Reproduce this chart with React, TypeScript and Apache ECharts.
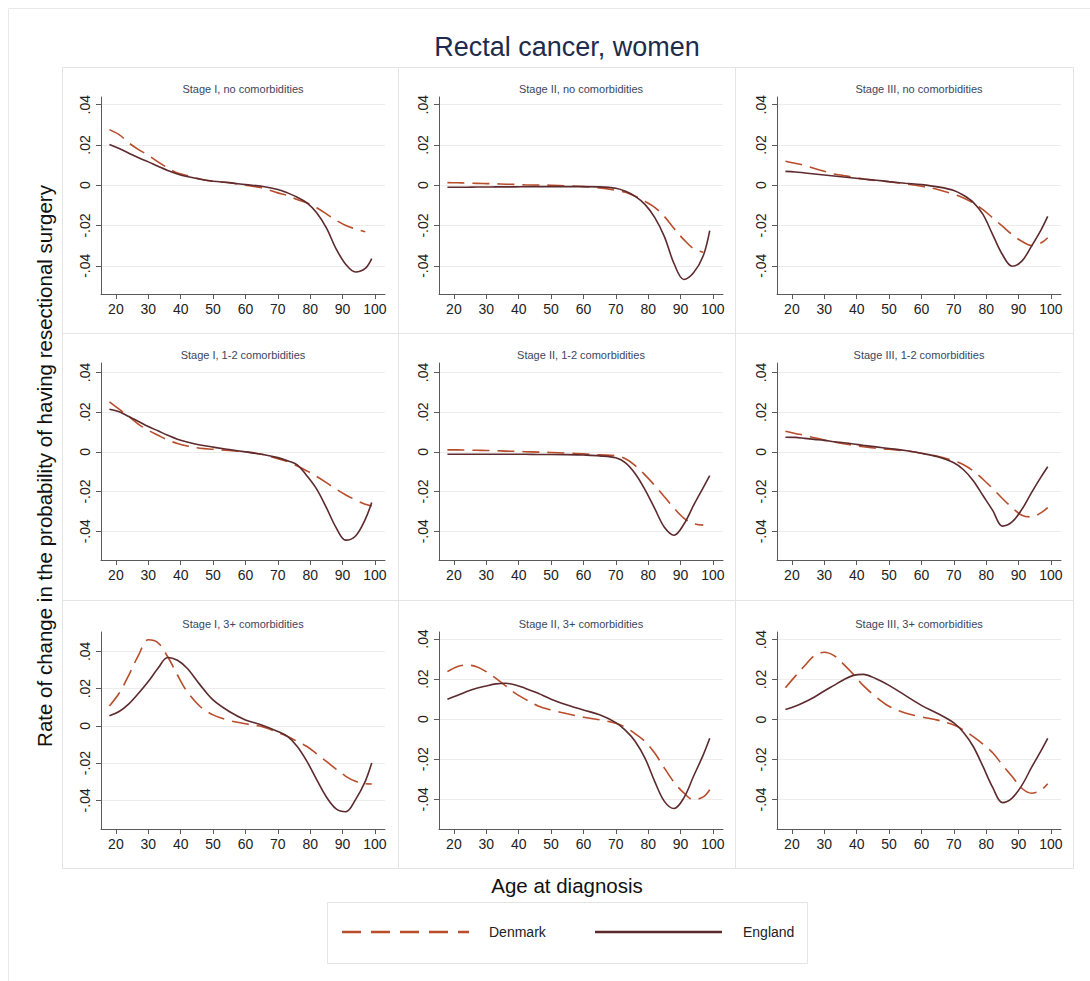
import React, { useEffect, useRef } from "react";
import * as echarts from "echarts";

// ---------- data ----------
const ages = [18, 21, 24, 27, 30, 33, 36, 39, 42, 46, 50, 55, 60, 65, 70, 73, 76, 79, 82, 85, 88, 91, 94, 97, 99];
const xTicks = [20, 30, 40, 50, 60, 70, 80, 90, 100];
const yTicks = [-0.04, -0.02, 0, 0.02, 0.04];

const panelTitles = [
  "Stage I, no comorbidities",
  "Stage II, no comorbidities",
  "Stage III, no comorbidities",
  "Stage I, 1-2 comorbidities",
  "Stage II, 1-2 comorbidities",
  "Stage III, 1-2 comorbidities",
  "Stage I, 3+ comorbidities",
  "Stage II, 3+ comorbidities",
  "Stage III, 3+ comorbidities",
];

const denmarkStage1None = [0.0276, 0.0251, 0.021, 0.0177, 0.0149, 0.0116, 0.0086, 0.0061, 0.0048, 0.0031, 0.002, 0.0012, 0, -0.0013, -0.0038, -0.0051, -0.0071, -0.0088, -0.0112, -0.0142, -0.0174, -0.02, -0.0217, -0.0231, null];
const englandStage1None = [0.0202, 0.0182, 0.0159, 0.0136, 0.0116, 0.0094, 0.0073, 0.0056, 0.0043, 0.003, 0.002, 0.0013, 0.0003, -0.0005, -0.0021, -0.0038, -0.006, -0.0088, -0.0137, -0.0212, -0.0316, -0.0393, -0.0431, -0.0413, -0.0364];
const denmarkStage2None = [0.0013, 0.0012, 0.0011, 0.0009, 0.0008, 0.0007, 0.0005, 0.0004, 0.0002, 0.0001, 0, -0.0003, -0.0007, -0.0013, -0.0025, -0.0035, -0.0055, -0.008, -0.011, -0.0155, -0.0215, -0.027, -0.0315, -0.0333, null];
const englandStage2None = [-0.001, -0.001, -0.001, -0.0009, -0.0009, -0.0008, -0.0008, -0.0008, -0.0007, -0.0007, -0.0007, -0.0007, -0.0007, -0.0008, -0.0015, -0.003, -0.0055, -0.0095, -0.016, -0.0255, -0.039, -0.0468, -0.0435, -0.035, -0.0225];
const denmarkStage3None = [0.0119, 0.0109, 0.0098, 0.0083, 0.0069, 0.0056, 0.0048, 0.004, 0.0031, 0.0023, 0.0017, 0.0007, -0.0005, -0.0021, -0.0045, -0.0063, -0.0088, -0.0121, -0.0162, -0.0203, -0.0245, -0.0278, -0.0299, -0.0286, -0.0261];
const englandStage3None = [0.0069, 0.0066, 0.0061, 0.0056, 0.0051, 0.0046, 0.0041, 0.0036, 0.0031, 0.0025, 0.0018, 0.001, 0.0003, -0.0008, -0.0026, -0.005, -0.0085, -0.0145, -0.0245, -0.0344, -0.0402, -0.0377, -0.0302, -0.022, -0.0155];
const denmarkStage1Few = [0.0252, 0.0215, 0.0178, 0.0139, 0.0109, 0.0084, 0.006, 0.0042, 0.003, 0.0018, 0.0013, 0.0007, 0, -0.0012, -0.0034, -0.0049, -0.0071, -0.0096, -0.0124, -0.0155, -0.0188, -0.0217, -0.0242, -0.0264, -0.0272];
const englandStage1Few = [0.0215, 0.0202, 0.0178, 0.0153, 0.0128, 0.0106, 0.0084, 0.0064, 0.005, 0.0035, 0.0024, 0.0012, 0, -0.0012, -0.0029, -0.0045, -0.0065, -0.0121, -0.0188, -0.0281, -0.0382, -0.0445, -0.0424, -0.034, -0.0255];
const denmarkStage2Few = [0.001, 0.001, 0.0009, 0.0008, 0.0007, 0.0006, 0.0004, 0.0003, 0.0001, -0.0001, -0.0003, -0.0006, -0.001, -0.0015, -0.002, -0.0035, -0.0069, -0.0116, -0.0169, -0.0226, -0.0284, -0.0334, -0.0362, -0.0369, null];
const englandStage2Few = [-0.0012, -0.0012, -0.0012, -0.0012, -0.0012, -0.0012, -0.0012, -0.0012, -0.0012, -0.0013, -0.0013, -0.0014, -0.0016, -0.002, -0.003, -0.0055, -0.011, -0.019, -0.0285, -0.038, -0.042, -0.0365, -0.027, -0.018, -0.012];
const denmarkStage3Few = [0.0104, 0.0093, 0.0083, 0.0071, 0.006, 0.005, 0.0041, 0.0033, 0.0026, 0.0018, 0.0013, 0.0005, -0.0007, -0.0022, -0.0045, -0.0065, -0.0096, -0.0138, -0.0185, -0.0235, -0.0281, -0.0319, -0.0328, -0.0306, -0.0281];
const englandStage3Few = [0.0074, 0.0073, 0.0068, 0.0063, 0.0058, 0.0051, 0.0046, 0.004, 0.0033, 0.0025, 0.0017, 0.0007, -0.0007, -0.0025, -0.0055, -0.009, -0.0145, -0.022, -0.0295, -0.0374, -0.0353, -0.029, -0.0205, -0.0125, -0.0075];
const denmarkStage1Many = [0.0107, 0.0175, 0.0273, 0.038, 0.0462, 0.0446, 0.0371, 0.0273, 0.0184, 0.0104, 0.0059, 0.0029, 0.0011, -0.0004, -0.0036, -0.0057, -0.0084, -0.0111, -0.015, -0.0191, -0.0232, -0.0271, -0.0298, -0.0311, -0.0312];
const englandStage1Many = [0.0054, 0.0077, 0.0118, 0.0175, 0.0238, 0.0309, 0.0367, 0.0352, 0.0309, 0.022, 0.0139, 0.0077, 0.0032, 0.0005, -0.003, -0.0057, -0.0111, -0.0191, -0.0289, -0.0382, -0.0446, -0.0461, -0.0396, -0.0298, -0.02];
const denmarkStage2Many = [0.0237, 0.0262, 0.027, 0.0262, 0.0237, 0.0204, 0.0166, 0.0129, 0.01, 0.0066, 0.0046, 0.0027, 0.001, -0.0003, -0.002, -0.0041, -0.0073, -0.0111, -0.0169, -0.0244, -0.0315, -0.0368, -0.0402, -0.0388, -0.0352];
const englandStage2Many = [0.01, 0.0118, 0.0138, 0.0154, 0.0166, 0.0176, 0.0179, 0.0171, 0.0154, 0.0129, 0.01, 0.0071, 0.0046, 0.0022, -0.0017, -0.0056, -0.0111, -0.0194, -0.031, -0.041, -0.0446, -0.0393, -0.0285, -0.0178, -0.0095];
const denmarkStage3Many = [0.0159, 0.0216, 0.027, 0.032, 0.0337, 0.032, 0.0276, 0.0226, 0.0171, 0.0113, 0.0066, 0.0033, 0.0013, -0.0003, -0.0028, -0.0053, -0.0086, -0.0123, -0.0166, -0.0227, -0.0285, -0.0344, -0.0369, -0.0352, -0.0322];
const englandStage3Many = [0.005, 0.0066, 0.0088, 0.0113, 0.0143, 0.0171, 0.0199, 0.0221, 0.0226, 0.0204, 0.0171, 0.0121, 0.0071, 0.003, -0.0017, -0.0065, -0.0135, -0.0235, -0.034, -0.0416, -0.0393, -0.033, -0.024, -0.0155, -0.0095];

const denmarkSeries = [denmarkStage1None, denmarkStage2None, denmarkStage3None, denmarkStage1Few, denmarkStage2Few, denmarkStage3Few, denmarkStage1Many, denmarkStage2Many, denmarkStage3Many];
const englandSeries = [englandStage1None, englandStage2None, englandStage3None, englandStage1Few, englandStage2Few, englandStage3Few, englandStage1Many, englandStage2Many, englandStage3Many];

// per-panel y-axis extents
const yMins = [-0.054, -0.054, -0.054, -0.0545, -0.0545, -0.0545, -0.0554, -0.0548, -0.0548];
const yMaxs = [0.0438, 0.0438, 0.0438, 0.0448, 0.0448, 0.0448, 0.0504, 0.0435, 0.0438];

// ---------- layout / style ----------
const FONT = "'Liberation Sans', Arial, Helvetica, sans-serif";
const DK_COLOR = "#b94c2b";
const EN_COLOR = "#5d2a2e";
const AXIS_COLOR = "#5a5a5a";
const BORDER = "#e4e4e4";
const plotLeft = [101, 439, 777];
const plotTop = [97, 363, 632];
const PLOT_W = 284;
const PLOT_H = 197;
const panelX = [62, 398, 735, 1073];
const panelY = [67, 333, 600, 868];
const X_MIN = 15.4;
const X_MAX = 103.1;

const fmtY = (v: number) => {
  if (Math.abs(v) < 1e-9) return "0";
  return (Math.round(v * 100) / 100).toFixed(2).replace("0.", ".");
};

export default function App() {
  const ref = useRef<HTMLDivElement>(null);

  useEffect(() => {
    if (!ref.current) return;
    const chart = echarts.init(ref.current, null, { renderer: "svg" });

    const grids: any[] = [];
    const xAxes: any[] = [];
    const yAxes: any[] = [];
    const series: any[] = [];
    const graphics: any[] = [];

    // outer frame (left & top)
    graphics.push({ type: "line", shape: { x1: 8.5, y1: 8.5, x2: 1090, y2: 8.5 }, style: { stroke: "#e8e8e8", lineWidth: 1 } });
    graphics.push({ type: "line", shape: { x1: 8.5, y1: 8.5, x2: 8.5, y2: 981 }, style: { stroke: "#e8e8e8", lineWidth: 1 } });

    panelTitles.forEach((title, i) => {
      const r = Math.floor(i / 3);
      const c = i % 3;
      grids.push({ left: plotLeft[c], top: plotTop[r], width: PLOT_W, height: PLOT_H, containLabel: false });
      xAxes.push({
        type: "value",
        gridIndex: i,
        min: X_MIN,
        max: X_MAX,
        axisLine: { show: true, onZero: false, lineStyle: { color: AXIS_COLOR, width: 1 } },
        axisTick: { show: true, length: 5, customValues: xTicks, lineStyle: { color: AXIS_COLOR, width: 1 } },
        axisLabel: { show: true, customValues: xTicks, fontSize: 14, color: "#222", margin: 8, fontFamily: FONT },
        splitLine: { show: false },
      });
      yAxes.push({
        type: "value",
        gridIndex: i,
        min: yMins[i],
        max: yMaxs[i],
        axisLine: { show: true, onZero: false, lineStyle: { color: AXIS_COLOR, width: 1 } },
        axisTick: { show: true, length: 5, customValues: yTicks, lineStyle: { color: AXIS_COLOR, width: 1 } },
        axisLabel: { show: true, customValues: yTicks, rotate: 90, formatter: fmtY, fontSize: 14, color: "#222", margin: 9, fontFamily: FONT },
        splitLine: { show: true, lineStyle: { color: "#ececec", width: 1 } },
      });
      const dk = denmarkSeries[i];
      const en = englandSeries[i];
      series.push({
        type: "line",
        name: "Denmark",
        xAxisIndex: i,
        yAxisIndex: i,
        data: ages.map((a, j) => [a, dk[j]]).filter((d) => d[1] !== null),
        smooth: 0.35,
        symbol: "none",
        showSymbol: false,
        lineStyle: { color: DK_COLOR, width: 1.6, type: [17, 8] },
        z: 3,
      });
      series.push({
        type: "line",
        name: "England",
        xAxisIndex: i,
        yAxisIndex: i,
        data: ages.map((a, j) => [a, en[j]]).filter((d) => d[1] !== null),
        smooth: 0.35,
        symbol: "none",
        showSymbol: false,
        lineStyle: { color: EN_COLOR, width: 1.6, type: "solid" },
        z: 4,
      });

      // panel border
      graphics.push({
        type: "rect",
        shape: { x: panelX[c] + 0.5, y: panelY[r] + 0.5, width: panelX[c + 1] - panelX[c], height: panelY[r + 1] - panelY[r] },
        style: { fill: "none", stroke: BORDER, lineWidth: 1 },
        z: -1,
      });
      // panel title
      graphics.push({
        type: "text",
        x: plotLeft[c] + PLOT_W / 2,
        y: plotTop[r] - 8,
        style: { text: title, fontSize: 11, fontFamily: FONT, fill: "#3a4660", align: "center", verticalAlign: "middle" },
      });
    });

    // main title
    graphics.push({
      type: "text",
      x: 567,
      y: 47,
      style: { text: "Rectal cancer, women", fontSize: 27, fontFamily: FONT, fill: "#1e2b4c", align: "center", verticalAlign: "middle" },
    });
    // y-axis title
    graphics.push({
      type: "text",
      x: 44,
      y: 466,
      rotation: Math.PI / 2,
      style: { text: "Rate of change in the probability of having resectional surgery", fontSize: 20.5, fontFamily: FONT, fill: "#111", align: "center", verticalAlign: "middle" },
    });
    // x-axis title
    graphics.push({
      type: "text",
      x: 567,
      y: 885,
      style: { text: "Age at diagnosis", fontSize: 20.5, fontFamily: FONT, fill: "#111", align: "center", verticalAlign: "middle" },
    });
    // legend
    graphics.push({ type: "rect", shape: { x: 327.5, y: 902.5, width: 480, height: 61 }, style: { fill: "#fff", stroke: BORDER, lineWidth: 1 } });
    graphics.push({ type: "line", shape: { x1: 342, y1: 932, x2: 469, y2: 932 }, style: { stroke: DK_COLOR, lineWidth: 2.3, lineDash: [19, 10] } });
    graphics.push({ type: "text", x: 489, y: 932, style: { text: "Denmark", fontSize: 14, fontFamily: FONT, fill: "#222", align: "left", verticalAlign: "middle" } });
    graphics.push({ type: "line", shape: { x1: 595, y1: 932, x2: 722, y2: 932 }, style: { stroke: EN_COLOR, lineWidth: 2.3 } });
    graphics.push({ type: "text", x: 743, y: 932, style: { text: "England", fontSize: 14, fontFamily: FONT, fill: "#222", align: "left", verticalAlign: "middle" } });

    chart.setOption({
      animation: false,
      backgroundColor: "#ffffff",
      textStyle: { fontFamily: FONT },
      grid: grids,
      xAxis: xAxes,
      yAxis: yAxes,
      series,
      graphic: graphics,
    });

    return () => chart.dispose();
  }, []);

  return <div ref={ref} style={{ position: "absolute", left: 0, top: 0, width: 1090, height: 981, background: "#fff" }} />;
}
